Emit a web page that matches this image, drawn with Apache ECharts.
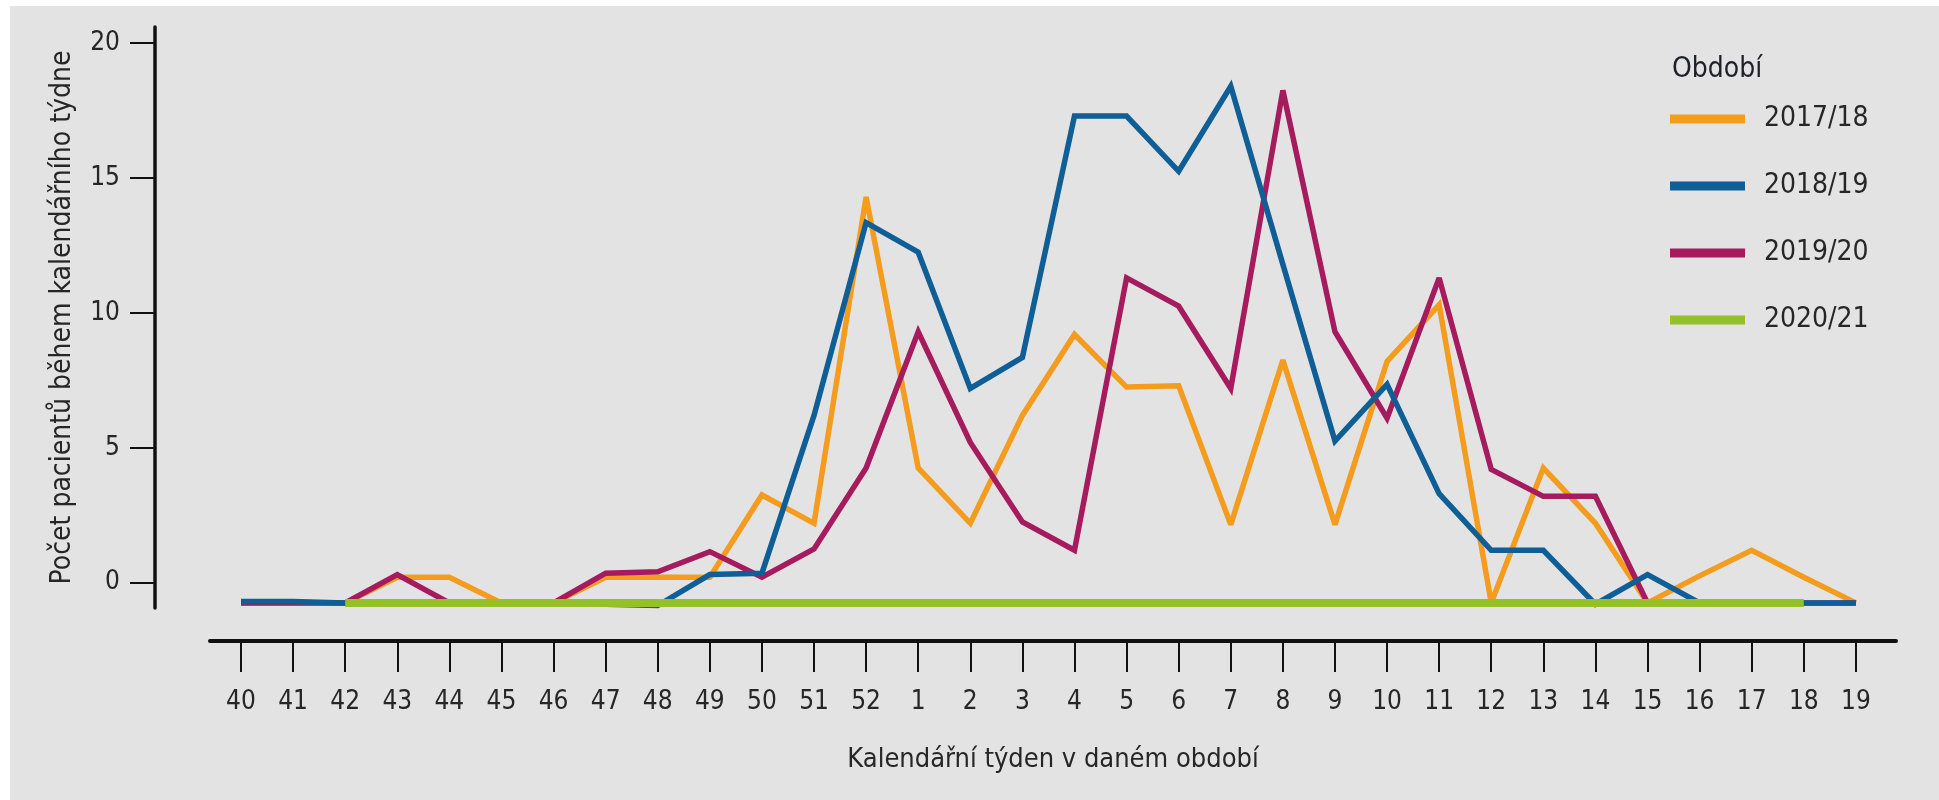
<!DOCTYPE html>
<html>
<head>
<meta charset="utf-8">
<script src="https://cdn.jsdelivr.net/npm/echarts@6/dist/echarts.min.js"></script>
<style>
  html, body { margin: 0; padding: 0; background: #ffffff; }
  #panel { position: absolute; left: 10px; top: 6px; width: 1929px; height: 794px; background: #e3e3e3; }
  #chart { width: 100%; height: 100%; }
</style>
</head>
<body>
<div id="panel"><div id="chart"></div></div>
<script>
// Calendar weeks of the season (category labels)
const weeks = ['40','41','42','43','44','45','46','47','48','49','50','51','52',
               '1','2','3','4','5','6','7','8','9','10','11','12','13','14','15','16','17','18','19'];

// Values
const s2017 = [-0.75,-0.75,-0.75,0.2,0.2,-0.75,-0.75,0.2,0.2,0.2,3.25,2.2,14.3,
               4.25,2.2,6.2,9.2,7.25,7.3,2.15,8.25,2.15,8.2,10.3,-0.75,4.25,2.2,-0.75,0.25,1.2,0.2,-0.75];
const s2018 = [-0.7,-0.7,-0.75,-0.75,-0.75,-0.75,-0.75,-0.8,-0.85,0.3,0.35,6.2,13.35,
               12.25,7.2,8.35,17.3,17.3,15.25,18.4,11.8,5.25,7.35,3.3,1.2,1.2,-0.8,0.3,-0.75,-0.75,-0.75,-0.75];
const s2019 = [-0.75,-0.75,-0.75,0.3,-0.75,-0.75,-0.75,0.35,0.4,1.15,0.2,1.25,4.25,
               9.3,5.2,2.25,1.2,11.3,10.25,7.2,18.25,9.3,6.1,11.3,4.2,3.2,3.2,-0.75,-0.75,-0.75,-0.75,-0.75];
const s2020 = [null,null,-0.75,-0.75,-0.75,-0.75,-0.75,-0.75,-0.75,-0.75,-0.75,-0.75,-0.75,
               -0.75,-0.75,-0.75,-0.75,-0.75,-0.75,-0.75,-0.75,-0.75,-0.75,-0.75,-0.75,-0.75,-0.75,-0.75,-0.75,-0.75,-0.75,null];

const seasonNames = ['2017/18','2018/19','2019/20','2020/21'];
const yTicks = [0,5,10,15,20];

const FONT = "'DejaVu Sans Condensed', 'DejaVu Sans', sans-serif";
const TXT = '#262626';
const idx = weeks.map((w, i) => i);
const pairs = arr => arr.map((v, i) => [i, v]);

const chart = echarts.init(document.getElementById('chart'), null, { renderer: 'canvas' });
chart.setOption({
  animation: false,
  textStyle: { fontFamily: FONT, color: TXT },
  title: {
    text: 'Období', left: 1657, top: 45,
    textStyle: { fontFamily: FONT, fontSize: 28, fontWeight: 'normal', color: '#1f1f2a' }
  },
  legend: {
    orient: 'vertical', left: 1655, top: 94,
    icon: 'rect', itemWidth: 75, itemHeight: 9, itemGap: 39,
    textStyle: { fontFamily: FONT, fontSize: 28, color: TXT, padding: [0, 0, 0, 14] },
    data: [seasonNames[0], seasonNames[1], seasonNames[2], seasonNames[3]]
  },
  grid: { left: 200, top: 21, width: 1686, height: 581, containLabel: false },
  xAxis: {
    type: 'value', min: -0.595, max: 31.77, offset: 33,
    name: 'Kalendářní týden v daném období', nameLocation: 'middle', nameGap: 105,
    nameTextStyle: { fontFamily: FONT, fontSize: 27, color: TXT },
    axisLine: { show: true, onZero: false, lineStyle: { color: '#111', width: 4 } },
    axisTick: { show: true, customValues: idx, length: 31, lineStyle: { color: '#111', width: 2 } },
    axisLabel: { customValues: idx, formatter: v => weeks[Math.round(v)], margin: 48,
                 fontFamily: FONT, fontSize: 26, color: TXT },
    splitLine: { show: false }
  },
  yAxis: {
    type: 'value', min: -0.94, max: 20.6, offset: 55,
    name: 'Počet pacientů během kalendářního týdne', nameLocation: 'middle', nameGap: 78,
    nameTextStyle: { fontFamily: FONT, fontSize: 28, color: TXT },
    axisLine: { show: true, onZero: false, lineStyle: { color: '#111', width: 3.5 } },
    axisTick: { show: true, customValues: yTicks, length: 25, lineStyle: { color: '#111', width: 2 } },
    axisLabel: { customValues: yTicks, margin: 35, fontFamily: FONT, fontSize: 26, color: TXT },
    splitLine: { show: false }
  },
  series: [
    { name: seasonNames[0], type: 'line', data: pairs(s2017), showSymbol: false, symbol: 'none', z: 2,
      color: '#f39c1e', lineStyle: { width: 5.5, color: '#f39c1e', join: 'miter', miterLimit: 3 } },
    { name: seasonNames[1], type: 'line', data: pairs(s2018), showSymbol: false, symbol: 'none', z: 4,
      color: '#0f5e96', lineStyle: { width: 5.5, color: '#0f5e96', join: 'miter', miterLimit: 3 } },
    { name: seasonNames[2], type: 'line', data: pairs(s2019), showSymbol: false, symbol: 'none', z: 3,
      color: '#a51b5d', lineStyle: { width: 5.5, color: '#a51b5d', join: 'miter', miterLimit: 3 } },
    { name: seasonNames[3], type: 'line', data: pairs(s2020), showSymbol: false, symbol: 'none', z: 5,
      color: '#94c12a', lineStyle: { width: 8, color: '#94c12a' } }
  ]
});
</script>
</body>
</html>
